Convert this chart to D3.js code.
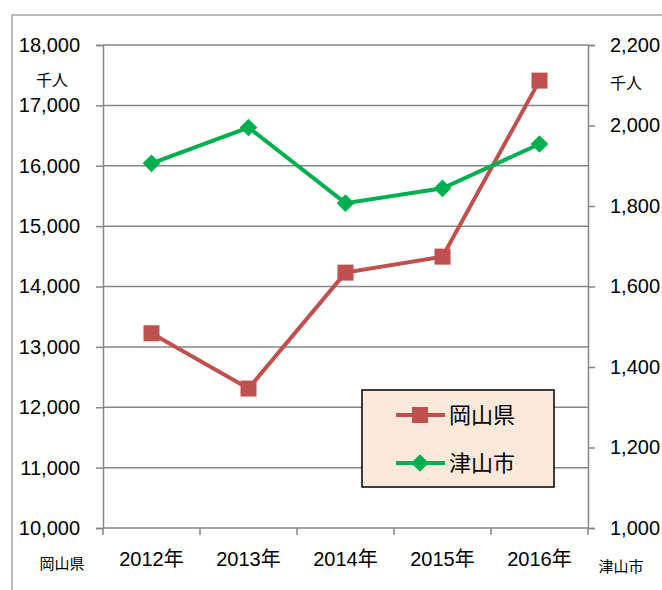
<!DOCTYPE html>
<html>
<head>
<meta charset="utf-8">
<script src="https://cdn.jsdelivr.net/npm/d3@7"></script>
<style>
  body { margin: 0; background: #fff; }
  svg text { font-family: "Liberation Sans", "Noto Sans CJK JP", sans-serif; fill: #000; }
  .jp { font-family: "Noto Sans CJK JP", sans-serif; }
</style>
</head>
<body>
<svg id="chart" width="662" height="590"></svg>
<script>
// chart data
const years = ["2012年", "2013年", "2014年", "2015年", "2016年"];
const okayama = [13225, 12310, 14230, 14495, 17410];   // left axis
const tsuyama = [1906, 1995, 1807, 1844, 1954];        // right axis
const leftTicks = [10000, 11000, 12000, 13000, 14000, 15000, 16000, 17000, 18000];
const rightTicks = [1000, 1200, 1400, 1600, 1800, 2000, 2200];
const seriesNames = ["岡山県", "津山市"];

const red = "#C0504D", green = "#00B050", grid = "#868686";

const svg = d3.select("#chart");
const plot = {left: 103, right: 588, top: 45, bottom: 528};

// outer frame (only top + left visible)
svg.append("path")
    .attr("d", "M12,590 V15 H662")
    .attr("fill", "none").attr("stroke", "#A6A6A6").attr("stroke-width", 1.5);

const x = d3.scaleBand().domain(years).range([plot.left, plot.right]);
const yL = d3.scaleLinear().domain([10000, 18000]).range([plot.bottom, plot.top]);
const yR = d3.scaleLinear().domain([1000, 2200]).range([plot.bottom, plot.top]);

// gridlines
svg.append("g").selectAll("line")
    .data(leftTicks.slice(1))
    .enter().append("line")
    .attr("x1", plot.left).attr("x2", plot.right)
    .attr("y1", d => yL(d)).attr("y2", d => yL(d))
    .attr("stroke", grid).attr("stroke-width", 1.5);

// left axis
const fmt = d3.format(",");
const gL = svg.append("g").attr("transform", `translate(${plot.left},0)`)
    .call(d3.axisLeft(yL).tickValues(leftTicks).tickFormat(fmt).tickSize(7).tickPadding(16));
// right axis
const gR = svg.append("g").attr("transform", `translate(${plot.right},0)`)
    .call(d3.axisRight(yR).tickValues(rightTicks).tickFormat(fmt).tickSize(7).tickPadding(15));
// bottom axis
const gB = svg.append("g").attr("transform", `translate(0,${plot.bottom})`)
    .call(d3.axisBottom(x).tickSize(0).tickPadding(24));

[gL, gR, gB].forEach(g => {
    g.select(".domain").attr("stroke", grid).attr("stroke-width", 1.5);
    g.selectAll(".tick line").attr("stroke", grid).attr("stroke-width", 1.5);
    g.selectAll("text").attr("font-size", 20).attr("font-family", null).attr("fill", "#000");
});
gB.select(".domain").attr("d", `M${plot.left},0H${plot.right}`);

// category boundary ticks on x axis
svg.append("g").selectAll("line")
    .data(years.concat(["end"]))
    .enter().append("line")
    .attr("x1", (d, i) => plot.left + i * x.bandwidth())
    .attr("x2", (d, i) => plot.left + i * x.bandwidth())
    .attr("y1", plot.bottom).attr("y2", plot.bottom + 7)
    .attr("stroke", grid).attr("stroke-width", 1.5);

// unit labels
svg.append("text").attr("class", "jp").attr("x", 52).attr("y", 86).attr("text-anchor", "middle")
    .attr("font-size", 16).text("千人");
svg.append("text").attr("class", "jp").attr("x", 626).attr("y", 89).attr("text-anchor", "middle")
    .attr("font-size", 16).text("千人");
svg.append("text").attr("class", "jp").attr("x", 62).attr("y", 569).attr("text-anchor", "middle")
    .attr("font-size", 15).text(seriesNames[0]);
svg.append("text").attr("class", "jp").attr("x", 621).attr("y", 572).attr("text-anchor", "middle")
    .attr("font-size", 15).text(seriesNames[1]);

const cx = d => x(d) + x.bandwidth() / 2;

// 岡山県 line + square markers
svg.append("path")
    .datum(okayama)
    .attr("d", d3.line().x((d, i) => cx(years[i])).y(d => yL(d)))
    .attr("fill", "none").attr("stroke", red).attr("stroke-width", 4);
svg.append("g").selectAll("rect")
    .data(okayama)
    .enter().append("rect")
    .attr("x", (d, i) => cx(years[i]) - 8).attr("y", d => yL(d) - 8)
    .attr("width", 16).attr("height", 16).attr("fill", red);

// 津山市 line + diamond markers
svg.append("path")
    .datum(tsuyama)
    .attr("d", d3.line().x((d, i) => cx(years[i])).y(d => yR(d)))
    .attr("fill", "none").attr("stroke", green).attr("stroke-width", 4);
const diamond = d3.symbol().type(d3.symbolDiamond2).size(200);
svg.append("g").selectAll("path")
    .data(tsuyama)
    .enter().append("path")
    .attr("d", diamond)
    .attr("transform", (d, i) => `translate(${cx(years[i])},${yR(d)})`)
    .attr("fill", green);

// legend
const lg = svg.append("g").attr("transform", "translate(362,390)");
lg.append("rect").attr("width", 192).attr("height", 97)
    .attr("fill", "#FDE9D9").attr("stroke", "#000").attr("stroke-width", 1.5);
const rows = [{name: seriesNames[0], color: red, y: 25, mark: "sq"},
              {name: seriesNames[1], color: green, y: 73, mark: "dm"}];
rows.forEach(r => {
    lg.append("line").attr("x1", 34).attr("x2", 83).attr("y1", r.y).attr("y2", r.y)
        .attr("stroke", r.color).attr("stroke-width", 4);
    if (r.mark === "sq") {
        lg.append("rect").attr("x", 50).attr("y", r.y - 8).attr("width", 16).attr("height", 16).attr("fill", r.color);
    } else {
        lg.append("path").attr("d", diamond).attr("transform", `translate(58,${r.y})`).attr("fill", r.color);
    }
    lg.append("text").attr("class", "jp").attr("x", 87).attr("y", r.y + 8)
        .attr("font-size", 22).text(r.name);
});
</script>
</body>
</html>
